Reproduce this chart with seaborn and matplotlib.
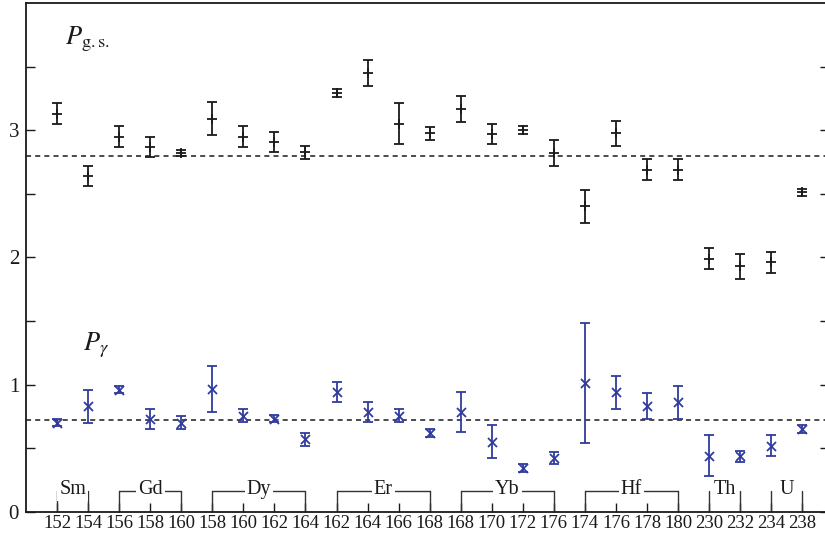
import matplotlib
matplotlib.use("Agg")
import matplotlib.pyplot as plt
import numpy as np
import pandas as pd
import seaborn as sns

# isotopes along the x axis
isotopes = ["152", "154", "156", "158", "160",
            "158", "160", "162", "164",
            "162", "164", "166", "168",
            "168", "170", "172", "176",
            "174", "176", "178", "180",
            "230", "232", "234", "238"]

# element brackets: name, first index, last index
elements = ["Sm", "Gd", "Dy", "Er", "Yb", "Hf", "Th", "U"]
elem_first = [0, 2, 5, 9, 13, 17, 21, 23]
elem_last = [1, 4, 8, 12, 16, 20, 22, 24]

# ground-state band values
gs_val = [3.13, 2.64, 2.95, 2.87, 2.82, 3.09, 2.95, 2.905, 2.825,
          3.29, 3.45, 3.05, 2.975, 3.165, 2.97, 3.0, 2.82,
          2.40, 2.975, 2.69, 2.69, 1.99, 1.93, 1.96, 2.51]
gs_err = [0.08, 0.08, 0.08, 0.08, 0.026, 0.13, 0.08, 0.08, 0.05,
          0.03, 0.10, 0.16, 0.05, 0.10, 0.08, 0.03, 0.10,
          0.13, 0.10, 0.08, 0.08, 0.082, 0.10, 0.08, 0.025]

# gamma band values
gam_val = [0.70, 0.83, 0.96, 0.73, 0.70, 0.965, 0.755, 0.73, 0.57,
           0.94, 0.785, 0.755, 0.62, 0.785, 0.55, 0.342, 0.42,
           1.01, 0.94, 0.83, 0.86, 0.44, 0.435, 0.52, 0.65]
gam_err = [0.027, 0.13, 0.03, 0.08, 0.05, 0.18, 0.05, 0.027, 0.05,
           0.08, 0.08, 0.05, 0.03, 0.16, 0.13, 0.03, 0.048,
           0.47, 0.13, 0.10, 0.13, 0.16, 0.045, 0.08, 0.03]

gs_mean = 2.8
gam_mean = 0.72

sns.set_theme(style="ticks")
plt.rcParams.update({
    "font.family": ["Liberation Serif", "DejaVu Serif"],
    "mathtext.fontset": "stix",
    "axes.linewidth": 1.3,
    "axes.edgecolor": "#1a1a1a",
})

df = pd.DataFrame({"pos": np.arange(len(isotopes)), "gs": gs_val, "gs_err": gs_err,
                   "gam": gam_val, "gam_err": gam_err})

black = "#1a1a1a"
blue = "#323c9e"

fig = plt.figure(figsize=(8.25, 5.37), dpi=100)
ax = fig.add_axes([26 / 825, 25.3 / 537, 803 / 825, 508.7 / 537])

ax.axhline(gs_mean, color=black, lw=1.1, ls=(0, (3.3, 2.7)), zorder=1)
ax.axhline(gam_mean, color=black, lw=1.1, ls=(0, (3.3, 2.7)), zorder=1)

ax.errorbar(df["pos"], df["gs"], yerr=df["gs_err"], fmt="none", ecolor=black,
            elinewidth=1.3, capsize=3.6, capthick=1.3, zorder=2)
sns.scatterplot(data=df, x="pos", y="gs", marker="+", s=42, color=black,
                linewidth=1.3, ax=ax, zorder=3)

ax.errorbar(df["pos"], df["gam"], yerr=df["gam_err"], fmt="none", ecolor=blue,
            elinewidth=1.3, capsize=3.6, capthick=1.3, zorder=2)
sns.scatterplot(data=df, x="pos", y="gam", marker="x", s=42, color=blue,
                linewidth=1.3, ax=ax, zorder=3)

# element brackets above the x axis
bh = 0.166
for name, a, b in zip(elements, elem_first, elem_last):
    for p in (a, b):
        ax.plot([p, p], [0, bh], color="#333333", lw=1.0, zorder=2)
    if b - a > 1:
        ax.plot([a, b], [bh, bh], color="#333333", lw=1.0, zorder=2)
    ax.text((a + b) / 2, bh + 0.008, name, ha="center", va="center", fontsize=14.5,
            color=black, zorder=4,
            bbox=dict(facecolor="white", edgecolor="none", pad=1.5))

ax.text(0.25, 3.675, r"$P_{\rm g.s.}$", fontsize=19, ha="left", va="baseline", color=black)
ax.text(0.83, 1.27, r"$P_\gamma$", fontsize=19, ha="left", va="baseline", color=black)

ax.set_xlim(-1, 24.86)
ax.set_ylim(0, 4.0)
ax.set_xticks(df["pos"])
ax.set_xticklabels(isotopes)
yt = np.arange(0, 3.6, 0.5)
ax.set_yticks(yt)
ax.set_yticklabels([str(int(v)) if v == int(v) else "" for v in yt])
ax.set_xlabel("")
ax.set_ylabel("")

ax.tick_params(axis="x", direction="in", length=6.5, width=1.0, labelsize=13.5, pad=2.5,
               colors=black)
ax.tick_params(axis="y", direction="in", length=6.5, width=1.0, labelsize=15, pad=5,
               right=True, colors=black)
for s in ["top", "right", "left", "bottom"]:
    ax.spines[s].set_visible(True)

fig.savefig("out.png", dpi=100)
